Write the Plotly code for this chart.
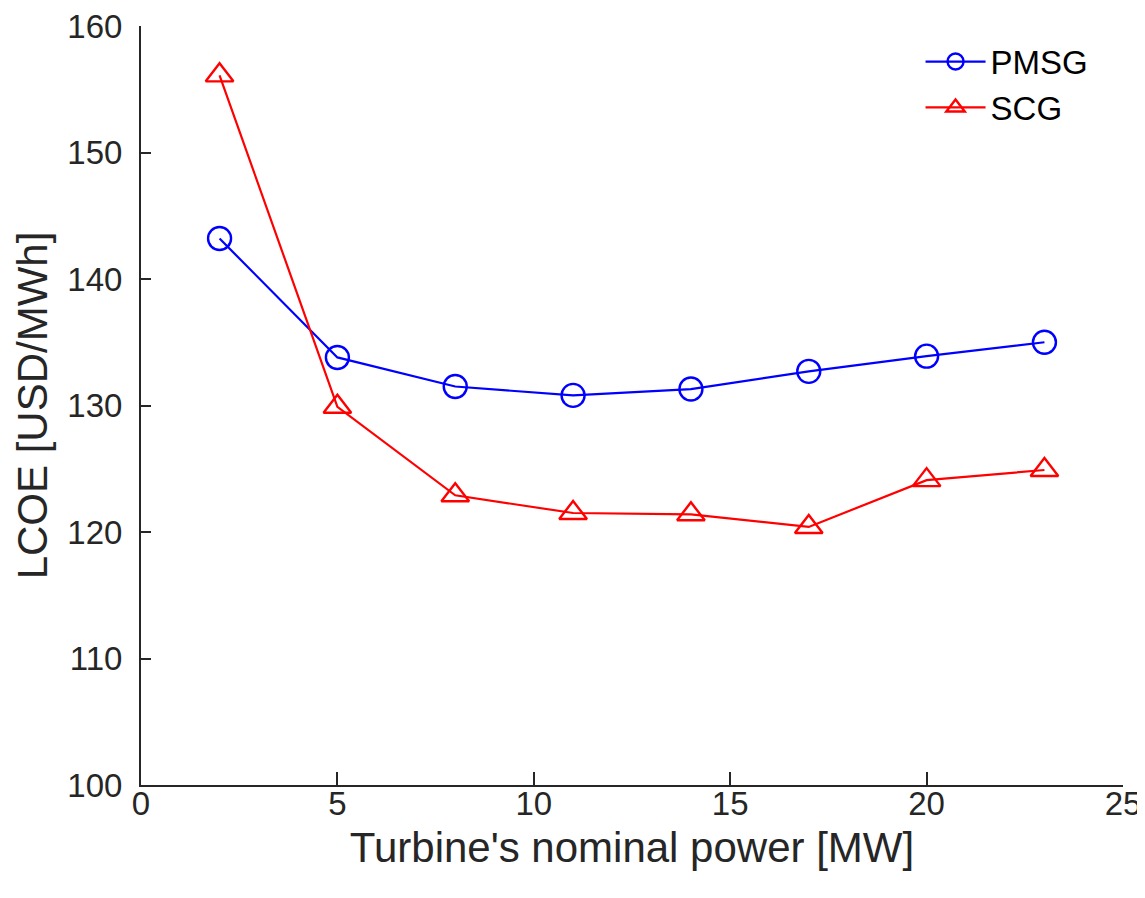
import plotly.graph_objects as go

power_mw = [2, 5, 8, 11, 14, 17, 20, 23]
lcoe_pmsg = [143.2, 133.8, 131.5, 130.8, 131.3, 132.7, 133.9, 135.0]
lcoe_scg = [156.1, 129.9, 122.9, 121.5, 121.4, 120.4, 124.1, 124.9]

x_ticks = [0, 5, 10, 15, 20, 25]
y_ticks = [100, 110, 120, 130, 140, 150, 160]

axis_col = "#262626"
font_fam = "Liberation Sans, Arial, sans-serif"

fig = go.Figure()
fig.add_trace(go.Scatter(
    x=power_mw, y=lcoe_pmsg, name="PMSG", mode="lines+markers",
    line=dict(color="#0000ff", width=2.2),
    marker=dict(symbol="circle-open", size=23, color="#0000ff",
                line=dict(width=2.4)),
))
fig.add_trace(go.Scatter(
    x=power_mw, y=lcoe_scg, name="SCG", mode="lines+markers",
    line=dict(color="#ff0000", width=2.2),
    marker=dict(symbol="triangle-up-open", size=24, color="#ff0000",
                line=dict(width=2.4)),
))

fig.update_layout(
    width=1145, height=898,
    paper_bgcolor="white", plot_bgcolor="white",
    margin=dict(l=133, r=30, t=18, b=121),
    font=dict(family=font_fam, color=axis_col),
    legend=dict(x=0.97, y=0.99, xanchor="right", yanchor="top",
                bgcolor="rgba(0,0,0,0)", font=dict(size=33, color="black"),
                itemwidth=60, tracegroupgap=0),
    showlegend=True,
)
fig.update_xaxes(
    range=[0, 25], tickvals=x_ticks, ticks="inside", ticklen=13,
    tickcolor=axis_col, tickwidth=2, showline=True, linecolor=axis_col,
    linewidth=2, showgrid=False, zeroline=False, mirror=False,
    tickfont=dict(size=33, color=axis_col), ticklabelstandoff=-12,
    ticklabeloverflow="allow", automargin=False,
    title=dict(text="Turbine's nominal power [MW]", font=dict(size=42, color=axis_col),
               standoff=12),
)
fig.update_yaxes(
    range=[100, 160], tickvals=y_ticks, ticks="inside", ticklen=10,
    tickcolor=axis_col, tickwidth=2, showline=True, linecolor=axis_col,
    linewidth=2, showgrid=False, zeroline=False, mirror=False,
    tickfont=dict(size=33, color=axis_col), ticklabelstandoff=10,
    ticklabeloverflow="allow", automargin=False,
    title=dict(text="LCOE [USD/MWh]", font=dict(size=42, color=axis_col),
               standoff=7),
)

fig.write_html("out.html")
